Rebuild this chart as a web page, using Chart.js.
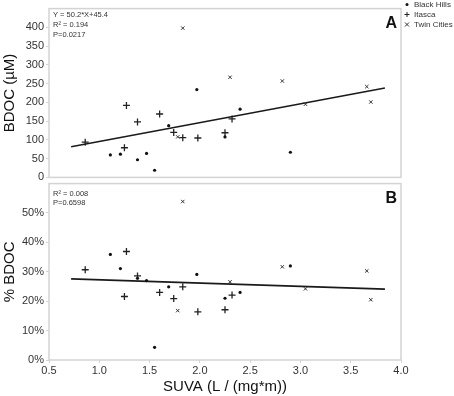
<!DOCTYPE html>
<html>
<head>
<meta charset="utf-8">
<script src="https://cdn.jsdelivr.net/npm/chart.js"></script>
<style>
    html, body { margin: 0; padding: 0; background: #fff; }
    #wrap { position: relative; width: 454px; height: 396px; }
    #chart-a { position: absolute; left: 0; top: 0; }
    #chart-b { position: absolute; left: 0; top: 175px; }
</style>
</head>
<body>
<div id="wrap">
    <canvas id="chart-a" width="454" height="186"></canvas>
    <canvas id="chart-b" width="454" height="221"></canvas>
</div>
<script>
// Black Hills
const bhSuva = [1.11, 1.21, 1.38, 1.47, 1.55, 1.69, 1.97, 2.25, 2.40, 2.90];
const bhBdoc = [60, 62, 47, 64, 19, 138, 234, 108, 182, 67];
const bhPct = [35.9, 31.1, 27.8, 27.0, 4.3, 24.9, 29.1, 21.0, 23.0, 32.0];

// Itasca
const itSuva = [0.86, 1.27, 1.25, 1.38, 1.60, 1.74, 1.83, 1.98, 2.25, 2.32];
const itBdoc = [94, 192, 79, 148, 169, 120, 106, 105, 119, 156];
const itPct = [30.7, 36.9, 21.6, 28.6, 23.0, 20.9, 24.9, 16.4, 17.1, 22.1];

// Twin Cities
const tcSuva = [1.78, 1.83, 2.30, 2.82, 3.05, 3.66, 3.70];
const tcBdoc = [108, 398, 267, 257, 195, 242, 201];
const tcPct = [16.8, 53.9, 26.6, 31.7, 24.2, 30.3, 20.5];

// Fit line end points
const fitX = [0.72, 3.84];
const fitBdoc = [81.5, 238.2];
const fitPct = [27.6, 24.1];

const statsA = ['Y = 50.2*X+45.4', 'R² = 0.194', 'P=0.0217'];
const statsB = ['R² = 0.008', 'P=0.6598'];

const siteNames = ['Black Hills', 'Itasca', 'Twin Cities'];

const FONT = 'Arial, "Liberation Sans", Helvetica, sans-serif';
const INK = '#333';
const FRAME = '#d3d3d3';

function pts(xs, ys) {
    return xs.map((x, i) => ({ x: x, y: ys[i] }));
}

function makeDatasets(bh, it, tc, fit) {
    return [
        { label: siteNames[0], data: pts(bhSuva, bh), pointStyle: 'circle', pointRadius: 1.6,
          backgroundColor: '#111', borderColor: '#111', borderWidth: 0 },
        { label: siteNames[1], data: pts(itSuva, it), pointStyle: 'cross', pointRadius: 3.5,
          borderColor: '#222', borderWidth: 1.3 },
        { label: siteNames[2], data: pts(tcSuva, tc), pointStyle: 'crossRot', pointRadius: 2.4,
          borderColor: '#333', borderWidth: 1 },
        { type: 'line', label: 'fit', data: pts(fitX, fit), borderColor: '#1a1a1a', borderWidth: 1.6,
          pointRadius: 0, fill: false }
    ];
}

// frame, panel letter, stats text
const panelDecor = {
    id: 'panelDecor',
    afterDraw(chart, args, opts) {
        const ctx = chart.ctx;
        const a = chart.chartArea;
        ctx.save();
        ctx.strokeStyle = FRAME;
        ctx.lineWidth = 1.5;
        ctx.strokeRect(a.left, a.top, a.right - a.left, a.bottom - a.top);

        ctx.fillStyle = '#111';
        ctx.font = 'bold 16px ' + FONT;
        ctx.textAlign = 'right';
        ctx.textBaseline = 'middle';
        ctx.fillText(opts.letter, a.right - 4, a.top + opts.letterDy);

        ctx.fillStyle = INK;
        ctx.font = '7.5px ' + FONT;
        ctx.textAlign = 'left';
        opts.lines.forEach((t, i) => {
            ctx.fillText(t, a.left + 4, a.top + opts.textDy + i * 9.6);
        });

        if (opts.legend) {
            ctx.font = '8px ' + FONT;
            chart.data.datasets.slice(0, 3).forEach((ds, i) => {
                const y = 4.5 + i * 10;
                const x = 407;
                ctx.strokeStyle = ds.borderColor;
                ctx.fillStyle = '#111';
                ctx.lineWidth = 1;
                ctx.beginPath();
                if (ds.pointStyle === 'circle') {
                    ctx.arc(x, y, 1.5, 0, Math.PI * 2);
                    ctx.fill();
                } else if (ds.pointStyle === 'cross') {
                    ctx.moveTo(x - 2.5, y); ctx.lineTo(x + 2.5, y);
                    ctx.moveTo(x, y - 2.5); ctx.lineTo(x, y + 2.5);
                    ctx.stroke();
                } else {
                    ctx.moveTo(x - 2, y - 2); ctx.lineTo(x + 2, y + 2);
                    ctx.moveTo(x - 2, y + 2); ctx.lineTo(x + 2, y - 2);
                    ctx.stroke();
                }
                ctx.fillStyle = INK;
                ctx.fillText(ds.label, 414, y);
            });
        }
        ctx.restore();
    }
};

function baseOptions() {
    return {
        responsive: false,
        animation: false,
        plugins: { legend: { display: false }, tooltip: { enabled: false } }
    };
}

// Panel A: BDOC
const optsA = baseOptions();
optsA.layout = { padding: { left: 0, right: 53, top: 8, bottom: 3 } };
optsA.plugins.panelDecor = { letter: 'A', letterDy: 14.5, lines: statsA, textDy: 6.7, legend: true };
optsA.scales = {
    x: { type: 'linear', min: 0.5, max: 4.0, display: false },
    y: {
        min: 0, max: 450,
        afterFit: s => { s.width = 49; },
        border: { display: false },
        grid: { drawOnChartArea: false, color: FRAME, tickLength: 3 },
        ticks: { stepSize: 50, padding: 2, color: INK, font: { family: FONT, size: 11 },
                 callback: v => (v > 400 ? null : v) },
        title: { display: true, text: 'BDOC (µM)', color: '#111', padding: { top: 1, bottom: 0 },
                 font: { family: FONT, size: 15 } }
    }
};

new Chart(document.getElementById('chart-a'), {
    type: 'scatter',
    data: { datasets: makeDatasets(bhBdoc, itBdoc, tcBdoc, fitBdoc) },
    options: optsA,
    plugins: [panelDecor]
});

// Panel B: % BDOC
const optsB = baseOptions();
optsB.layout = { padding: { left: 0, right: 53, top: 1, bottom: 0 } };
optsB.plugins.panelDecor = { letter: 'B', letterDy: 15, lines: statsB, textDy: 10, legend: false };
optsB.scales = {
    x: {
        type: 'linear', min: 0.5, max: 4.0,
        afterFit: s => { s.height = 36; },
        border: { display: false },
        grid: { drawOnChartArea: false, color: FRAME, tickLength: 3 },
        ticks: { stepSize: 0.5, padding: 1, color: INK, font: { family: FONT, size: 11 },
                 callback: v => v.toFixed(1) },
        title: { display: true, text: 'SUVA (L / (mg*m))', color: '#111', padding: { top: 0, bottom: 0 },
                 font: { family: FONT, size: 15 } }
    },
    y: {
        min: 0, max: 60,
        afterFit: s => { s.width = 49; },
        border: { display: false },
        grid: { drawOnChartArea: false, color: FRAME, tickLength: 3 },
        ticks: { stepSize: 10, padding: 2, color: INK, font: { family: FONT, size: 11 },
                 callback: v => (v > 50 ? null : v + '%') },
        title: { display: true, text: '% BDOC', color: '#111', padding: { top: 1, bottom: 0 },
                 font: { family: FONT, size: 15 } }
    }
};

new Chart(document.getElementById('chart-b'), {
    type: 'scatter',
    data: { datasets: makeDatasets(bhPct, itPct, tcPct, fitPct) },
    options: optsB,
    plugins: [panelDecor]
});
</script>
</body>
</html>
